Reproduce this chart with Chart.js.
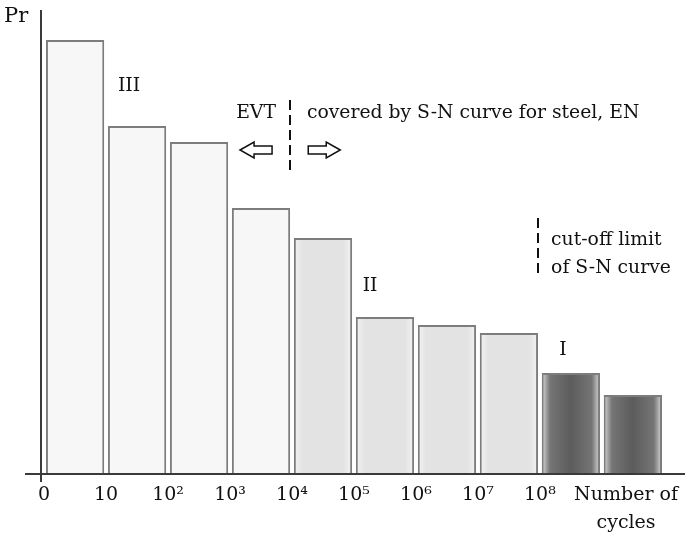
<!DOCTYPE html>
<html><head><meta charset="utf-8">
<script src="https://cdn.jsdelivr.net/npm/chart.js@4.4.1/dist/chart.umd.min.js"></script>
<style>html,body{margin:0;padding:0;background:#fff}#wrap{width:685px;height:541px;position:relative}</style>
</head><body><div id="wrap"><canvas id="c"></canvas></div>
<script>
// ---- data ----
const edgeValues = [0, 1, 2, 3, 4, 5, 6, 7, 8];
const edgeLabels = ['0', '10', '10²', '10³', '10⁴', '10⁵', '10⁶', '10⁷', '10⁸'];
const axisTitle = ['Number of', 'cycles'];
const axisTitlePos = 9.39;
const binCenters = [0.5, 1.5, 2.5, 3.5, 4.5, 5.5, 6.5, 7.5, 8.5, 9.5];
const pr = [434, 348, 332, 266, 236, 157, 149, 141, 101, 79];
const regime = ['light', 'light', 'light', 'light', 'mid', 'mid', 'mid', 'mid', 'dark', 'dark'];
const yMax = 464;
const yTitle = 'Pr';
const notes = [
  { text: 'III', x: 1.37, y: 388, align: 'center' },
  { text: 'EVT', x: 3.42, y: 361, align: 'center' },
  { text: 'covered by S-N curve for steel, EN', x: 4.24, y: 361, align: 'left' },
  { text: 'cut-off limit', x: 8.18, y: 234, align: 'left' },
  { text: 'of S-N curve', x: 8.18, y: 206, align: 'left' },
  { text: 'II', x: 5.26, y: 188, align: 'center' },
  { text: 'I', x: 8.37, y: 124, align: 'center' }
];
const dashedLines = [ { x: 3.97, y0: 374, y1: 299 }, { x: 7.97, y0: 256, y1: 199 } ];
const arrows = [ { x: 3.42, y: 324, dir: -1 }, { x: 4.52, y: 324, dir: 1 } ];

const FONT = '"DejaVu Serif", serif';

function bg(ctx) {
  const i = ctx.dataIndex;
  const kind = regime[i];
  if (kind === 'light') return '#f7f7f7';
  const chart = ctx.chart;
  if (!chart.chartArea) return '#ddd';
  const xs = chart.scales.x;
  const x0 = xs.getPixelForValue(binCenters[i] - 0.47);
  const x1 = xs.getPixelForValue(binCenters[i] + 0.47);
  const g = chart.ctx.createLinearGradient(x0, 0, x1, 0);
  if (kind === 'mid') {
    g.addColorStop(0, '#f3f3f3'); g.addColorStop(0.15, '#e3e3e3');
    g.addColorStop(0.85, '#e3e3e3'); g.addColorStop(1, '#f3f3f3');
  } else {
    g.addColorStop(0, '#d8d8d8'); g.addColorStop(0.14, '#757575');
    g.addColorStop(0.5, '#5c5c5c'); g.addColorStop(0.86, '#757575'); g.addColorStop(1, '#d8d8d8');
  }
  return g;
}

const decor = {
  id: 'decor',
  afterDatasetsDraw(chart) {
    const c = chart.ctx, xs = chart.scales.x, ys = chart.scales.y, a = chart.chartArea;
    c.save();
    // axes
    c.strokeStyle = '#3a3a3a'; c.lineWidth = 2;
    c.beginPath();
    c.moveTo(25, a.bottom); c.lineTo(685, a.bottom);
    c.moveTo(a.left, a.top); c.lineTo(a.left, a.bottom + 8);
    c.stroke();
    // Pr
    c.fillStyle = '#111'; c.font = '21px ' + FONT; c.textBaseline = 'middle'; c.textAlign = 'left';
    c.fillText(yTitle, 4, 17);
    // notes
    c.font = '18.8px ' + FONT;
    notes.forEach(n => {
      c.textAlign = n.align;
      c.fillText(n.text, xs.getPixelForValue(n.x), ys.getPixelForValue(n.y));
    });
    // dashed lines
    c.strokeStyle = '#111'; c.lineWidth = 2; c.setLineDash([10, 5]);
    dashedLines.forEach(d => {
      const x = Math.round(xs.getPixelForValue(d.x));
      c.beginPath(); c.moveTo(x, ys.getPixelForValue(d.y0)); c.lineTo(x, ys.getPixelForValue(d.y1)); c.stroke();
    });
    c.setLineDash([]);
    // arrows
    c.lineWidth = 1.5; c.fillStyle = '#fff';
    arrows.forEach(ar => {
      const cx = xs.getPixelForValue(ar.x), cy = ys.getPixelForValue(ar.y);
      const L = 32, H = 16, B = 8, HL = 14, d = ar.dir;
      const tip = cx + d * L / 2, tail = cx - d * L / 2, neck = tip - d * HL;
      c.beginPath();
      c.moveTo(tip, cy);
      c.lineTo(neck, cy - H / 2); c.lineTo(neck, cy - B / 2);
      c.lineTo(tail, cy - B / 2); c.lineTo(tail, cy + B / 2);
      c.lineTo(neck, cy + B / 2); c.lineTo(neck, cy + H / 2);
      c.closePath(); c.fill(); c.stroke();
    });
    c.restore();
  }
};

new Chart(document.getElementById('c'), {
  type: 'bar',
  data: {
    datasets: [{
      data: binCenters.map((x, i) => ({ x, y: pr[i] })),
      backgroundColor: bg,
      borderColor: '#7d7d7d',
      borderWidth: 2,
      barPercentage: 0.94,
      categoryPercentage: 1
    }]
  },
  options: {
    responsive: true, maintainAspectRatio: false, animation: false,
    layout: { padding: { top: 10, right: 0, bottom: 0, left: 0 } },
    plugins: { legend: { display: false }, tooltip: { enabled: false } },
    scales: {
      x: {
        type: 'linear', min: -0.05, max: 10.34, offset: false,
        grid: { display: false, drawTicks: false }, border: { display: false },
        afterBuildTicks: s => { s.ticks = edgeValues.concat([axisTitlePos]).map(v => ({ value: v })); },
        afterFit: s => { s.height = 67; },
        ticks: {
          autoSkip: false, maxRotation: 0, padding: 7, color: '#111',
          font: { family: FONT, size: 19, lineHeight: 1.47 },
          callback: (v, i) => i < edgeLabels.length ? edgeLabels[i] : axisTitle
        }
      },
      y: {
        min: 0, max: yMax,
        grid: { display: false, drawTicks: false }, border: { display: false },
        ticks: { display: false },
        afterFit: s => { s.width = 41; }
      }
    }
  },
  plugins: [decor]
});
</script>
</body></html>
